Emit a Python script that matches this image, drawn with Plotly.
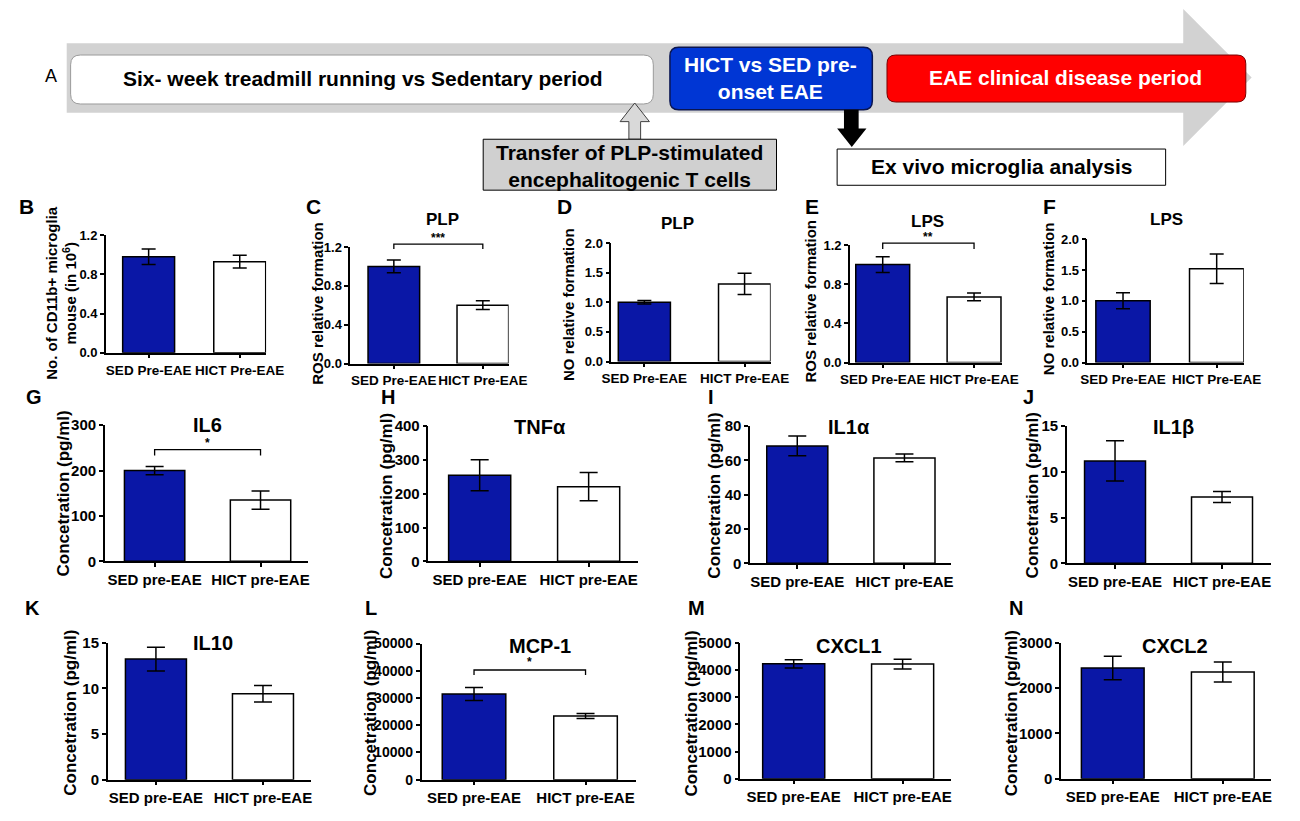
import plotly.graph_objects as go

W, H = 1300, 821

row1_groups = ["SED Pre-EAE", "HICT Pre-EAE"]
row23_groups = ["SED pre-EAE", "HICT pre-EAE"]

# means and error bars
microglia = [0.98, 0.93]
microglia_err = [0.08, 0.065]
ros_plp = [1.0, 0.60]
ros_plp_err = [0.065, 0.045]
no_plp = [1.0, 1.31]
no_plp_err = [0.03, 0.18]
ros_lps = [1.0, 0.67]
ros_lps_err = [0.08, 0.04]
no_lps = [1.0, 1.52]
no_lps_err = [0.13, 0.24]
il6 = [200, 135]
il6_err = [9, 20]
tnfa = [255, 221]
tnfa_err = [46, 42]
il1a = [68.5, 61.5]
il1a_err = [5.8, 2.3]
il1b = [11.2, 7.25]
il1b_err = [2.2, 0.6]
il10 = [13.2, 9.4]
il10_err = [1.3, 0.9]
mcp1 = [31500, 23400]
mcp1_err = [2400, 900]
cxcl1 = [4220, 4210]
cxcl1_err = [150, 180]
cxcl2 = [2440, 2350]
cxcl2_err = [260, 220]

BLUE = "#0a17a6"
FONT = "Liberation Sans, Arial, sans-serif"


def px(x):
    return x / W


def py(y):
    return 1 - y / H


# letter, title, y title, values, errors, groups, ymax, dtick, fmt,
# box (left, right, top, bottom in px), x range, bar width,
# letter pos, title pos, y title pos, significance (text, bracket, tick, star), y tick size
panels = [
    ("B", "", "No. of CD11b+ microglia<br>mouse (in 10<sup>6</sup>)", microglia, microglia_err,
     row1_groups, 1.2, 0.4, ".1f", (98, 262, 231, 351), (-0.47, 1.29), 0.57,
     (17, 202), None, (53, 290), None, 13),
    ("C", "PLP", "ROS relative formation", ros_plp, ros_plp_err,
     row1_groups, 1.2, 0.4, ".1f", (348, 510, 243, 362), (-0.49, 1.29), 0.58,
     (310, 202), (442, 215), (315, 300), ("***", 1.23, 1.18, 1.29), 13),
    ("D", "PLP", "NO relative formation", no_plp, no_plp_err,
     row1_groups, 2.0, 0.5, ".1f", (615, 778, 239, 360), (-0.33, 1.26), 0.52,
     (567, 202), (683, 219), (572, 302), None, 13),
    ("E", "LPS", "ROS relative formation", ros_lps, ros_lps_err,
     row1_groups, 1.2, 0.4, ".1f", (859, 1015, 241, 361), (-0.36, 1.31), 0.59,
     (820, 202), (938, 217), (819, 298), ("**", 1.22, 1.16, 1.28), 13),
    ("F", "LPS", "NO relative formation", no_lps, no_lps_err,
     row1_groups, 2.0, 0.5, ".1f", (1102, 1262, 235, 361), (-0.38, 1.29), 0.58,
     (1063, 202), (1183, 215), (1063, 296), None, 13),
    ("G", "IL6", "Concetration (pg/ml)", il6, il6_err,
     row23_groups, 300, 100, "d", (97, 305, 425, 564), (-0.47, 1.45), 0.57,
     (25, 396), (202, 425), (55, 495), ("*", 246, 233, 261), 15),
    ("H", "TNFα", "Concetration (pg/ml)", tnfa, tnfa_err,
     row23_groups, 400, 100, "d", (428, 642, 426, 564), (-0.47, 1.45), 0.57,
     (387, 396), (542, 427), (385, 497), None, 15),
    ("I", "IL1α", "Concetration (pg/ml)", il1a, il1a_err,
     row23_groups, 80, 20, "d", (757, 962, 426, 566), (-0.44, 1.43), 0.57,
     (717, 396), (858, 427), (721, 497), None, 15),
    ("J", "IL1β", "Concetration (pg/ml)", il1b, il1b_err,
     row23_groups, 15, 5, "d", (1081, 1290, 426, 566), (-0.45, 1.46), 0.57,
     (1042, 396), (1190, 427), (1046, 497), None, 15),
    ("K", "IL10", "Concetration (pg/ml)", il10, il10_err,
     row23_groups, 15, 5, "d", (100, 308, 647, 787), (-0.45, 1.45), 0.57,
     (23, 612), (208, 647), (61, 719), None, 15),
    ("L", "MCP-1", "Concetration (pg/ml)", mcp1, mcp1_err,
     row23_groups, 50000, 10000, "d", (421, 640, 648, 787), (-0.47, 1.45), 0.57,
     (369, 612), (542, 650), (368, 719), ("*", 40300, 38500, 43200), 14),
    ("M", "CXCL1", "Concetration (pg/ml)", cxcl1, cxcl1_err,
     row23_groups, 5000, 1000, "d", (747, 962, 647, 786), (-0.49, 1.44), 0.57,
     (702, 612), (858, 650), (697, 719), None, 15),
    ("N", "CXCL2", "Concetration (pg/ml)", cxcl2, cxcl2_err,
     row23_groups, 3000, 1000, "d", (1075, 1290, 647, 786), (-0.47, 1.44), 0.57,
     (1029, 612), (1192, 650), (1024, 719), None, 15),
]

fig = go.Figure()
annotations = []
shapes = []


def rounded_rect(x0, y0, x1, y1, r):
    # rounded box in pixel coords, converted to paper
    return (f"M {px(x0 + r)},{py(y0)} L {px(x1 - r)},{py(y0)} "
            f"Q {px(x1)},{py(y0)} {px(x1)},{py(y0 + r)} L {px(x1)},{py(y1 - r)} "
            f"Q {px(x1)},{py(y1)} {px(x1 - r)},{py(y1)} L {px(x0 + r)},{py(y1)} "
            f"Q {px(x0)},{py(y1)} {px(x0)},{py(y1 - r)} L {px(x0)},{py(y0 + r)} "
            f"Q {px(x0)},{py(y0)} {px(x0 + r)},{py(y0)} Z")


def poly(points):
    return "M " + " L ".join(f"{px(x)},{py(y)}" for x, y in points) + " Z"


def note(x, y, text, size, color="black", bold=True, angle=0):
    annotations.append(dict(
        x=px(x), y=py(y), xref="paper", yref="paper", text=text, showarrow=False,
        textangle=angle, xanchor="center", yanchor="middle",
        font=dict(family=FONT, size=size, color=color, weight="bold" if bold else "normal"),
    ))


# ---- panel A: timeline schematic ----
shapes.append(dict(type="path", xref="paper", yref="paper", layer="below",
                   path=poly([(58, 35), (1200, 35), (1200, 0), (1270, 70), (1200, 140), (1200, 106), (58, 106)]),
                   fillcolor="#d2d2d2", line=dict(width=0)))
shapes.append(dict(type="path", xref="paper", yref="paper", path=rounded_rect(62, 47, 658, 97, 10),
                   fillcolor="white", line=dict(color="#9a9a9a", width=1)))
shapes.append(dict(type="path", xref="paper", yref="paper", path=rounded_rect(675, 39, 882, 103, 9),
                   fillcolor="#0036d4", line=dict(color="#0a1550", width=1.5)))
shapes.append(dict(type="path", xref="paper", yref="paper", path=rounded_rect(897, 47, 1264, 95, 9),
                   fillcolor="#ff0000", line=dict(color="#7a0000", width=1)))
shapes.append(dict(type="path", xref="paper", yref="paper",
                   path=poly([(639, 96), (654, 115), (645, 115), (645, 133), (633, 133), (633, 115), (624, 115)]),
                   fillcolor="#d9d9d9", line=dict(color="#404040", width=1)))
shapes.append(dict(type="rect", xref="paper", yref="paper", x0=px(484), x1=px(784), y0=py(185), y1=py(133),
                   fillcolor="#d0d0d0", line=dict(color="black", width=1)))
shapes.append(dict(type="path", xref="paper", yref="paper",
                   path=poly([(853, 103), (868, 103), (868, 122), (876, 122), (861, 141), (846, 122), (853, 122)]),
                   fillcolor="black", line=dict(width=0)))
shapes.append(dict(type="rect", xref="paper", yref="paper", x0=px(846), x1=px(1182), y0=py(180), y1=py(143),
                   fillcolor="white", line=dict(color="black", width=1)))

note(42, 68, "A", 18, bold=False)
note(361, 71, "Six- week treadmill running vs Sedentary period", 21)
note(778, 70, "HICT vs SED pre-<br>onset EAE", 21, color="white")
note(1080, 70, "EAE clinical disease period", 21, color="white")
note(634, 160, "Transfer of PLP-stimulated<br>encephalitogenic T cells", 21)
note(1014, 161, "Ex vivo microglia analysis", 21)

# ---- bar panels ----
layout_axes = {}
for i, (letter, title, ytitle, vals, errs, groups, ymax, dtick, fmt, box, xr, bw,
        lpos, tpos, ypos, sig, ytick_size) in enumerate(panels):
    n = i + 1
    xid = "x" if n == 1 else f"x{n}"
    yid = "y" if n == 1 else f"y{n}"
    row1 = i < 5
    cap = 7 if row1 else 9

    fig.add_trace(go.Bar(
        x=[0, 1], y=vals, width=bw, xaxis=xid, yaxis=yid,
        marker=dict(color=[BLUE, "white"], line=dict(color="black", width=1.5)),
        error_y=dict(type="data", array=errs, color="black", thickness=1.5, width=cap),
        showlegend=False, hoverinfo="skip",
    ))

    left, right, top, bottom = box
    common = dict(showline=True, linecolor="black", linewidth=1.5, ticks="outside",
                  ticklen=4, tickwidth=1.5, tickcolor="black", showgrid=False, zeroline=False,
                  fixedrange=True)
    layout_axes["xaxis" if n == 1 else f"xaxis{n}"] = dict(
        common, domain=[px(left), px(right)], range=list(xr), anchor=yid,
        tickmode="array", tickvals=[0, 1], ticktext=groups, tickangle=0,
        tickfont=dict(family=FONT, size=13.5 if row1 else 15, color="black", weight="bold"))
    layout_axes["yaxis" if n == 1 else f"yaxis{n}"] = dict(
        common, domain=[py(bottom), py(top)], range=[0, ymax], anchor=xid,
        tick0=0, dtick=dtick, tickformat=fmt,
        tickfont=dict(family=FONT, size=ytick_size, color="black", weight="bold"))

    note(lpos[0], lpos[1], letter, 21 if row1 else 20)
    if tpos:
        note(tpos[0], tpos[1], title, 17 if row1 else 20)
    note(ypos[0], ypos[1], ytitle, 15 if row1 else 17, angle=-90)

    if sig:
        text, yb, yt, ys = sig
        span = xr[1] - xr[0]
        xa = (0 - xr[0]) / span
        xb = (1 - xr[0]) / span
        shapes.append(dict(
            type="path", xref=f"{xid} domain", yref=f"{yid} domain",
            path=f"M {xa},{yt / ymax} L {xa},{yb / ymax} L {xb},{yb / ymax} L {xb},{yt / ymax}",
            line=dict(color="black", width=1.3)))
        annotations.append(dict(
            x=(xa + xb) / 2, y=ys / ymax, xref=f"{xid} domain", yref=f"{yid} domain",
            text=text, showarrow=False, xanchor="center", yanchor="middle",
            font=dict(family=FONT, size=12, color="black", weight="bold")))

fig.update_layout(
    width=W, height=H, margin=dict(l=0, r=0, t=0, b=0),
    paper_bgcolor="white", plot_bgcolor="white",
    annotations=annotations, shapes=shapes, **layout_axes,
)

fig.write_html(
    "out.html", config={"displayModeBar": False},
    post_script=("document.body.style.margin='0px';"
                 "document.documentElement.style.overflow='hidden';"),
)
